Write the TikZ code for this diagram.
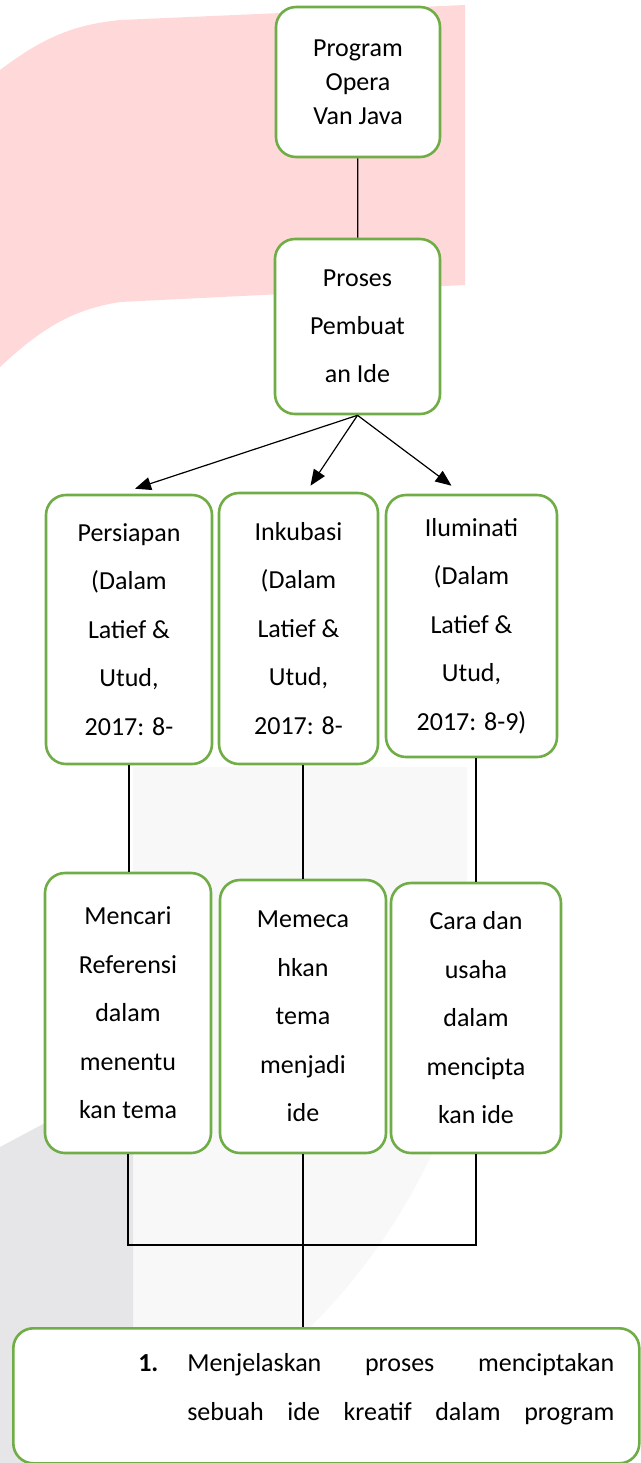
\documentclass[tikz,border=0pt]{standalone}
\usepackage{fontspec}
\setmainfont{Carlito}
\usetikzlibrary{arrows.meta,calc}
\definecolor{hijau}{HTML}{70AD47}
\definecolor{merahmuda}{HTML}{FFD8DA}
\definecolor{abu}{HTML}{E6E6E8}
\definecolor{abumuda}{HTML}{F8F8F8}
\begin{document}
\begin{tikzpicture}
      [x=0.5pt, y=-0.5pt,
      kotak/.style={draw=hijau, line width=1.3pt, fill=white, rounded corners=10pt, align=center, inner sep=0pt},
      baris/.style={kotak, font=\fontsize{13}{24.25}\selectfont},
      garis/.style={black, line width=0.6pt},
      panah/.style={garis, -{Triangle[length=8pt,width=6.5pt]}},
      ]
      \useasboundingbox (0,0) rectangle (641,1463);
      % latar belakang
      \fill[merahmuda] (0,70) .. controls (40,40) and (70,25) .. (120,20) -- (465,5)
        -- (465,285) -- (120,302) .. controls (70,310) and (40,330) .. (0,367) -- cycle;
      \fill[abumuda] (133,767) -- (467,767) -- (467,1060)
        .. controls (440,1160) and (380,1260) .. (307,1330) -- (133,1330) -- cycle;
      \fill[abu] (0,1147) -- (133,1076) -- (133,1463) -- (0,1463) -- cycle;
      % kotak
      \node[kotak, minimum width=82pt, minimum height=75pt, font=\fontsize{13}{17}\selectfont]
        (prog) at (358,82) {Program\\Opera\\Van Java};
      \node[kotak, minimum width=82.5pt, minimum height=87.5pt, font=\fontsize{13}{24}\selectfont]
        (ide) at (357.5,326.5) {Proses\\Pembuat\\an Ide};
      \node[baris, minimum width=83pt, minimum height=134.5pt] (prs) at (129,629.5)
        {Persiapan\\(Dalam\\Latief \&\\Utud,\\2017: 8-};
      \node[baris, minimum width=79.5pt, minimum height=135.5pt] (ink) at (298.5,628.5)
        {Inkubasi\\(Dalam\\Latief \&\\Utud,\\2017: 8-};
      \node[baris, minimum width=85.5pt, minimum height=131pt] (ilu) at (471.5,626)
        {Iluminati\\(Dalam\\Latief \&\\Utud,\\2017: 8-9)};
      \node[baris, minimum width=83pt, minimum height=140pt] (mcr) at (128,1013)
        {Mencari\\Referensi\\dalam\\menentu\\kan tema};
      \node[baris, minimum width=83pt, minimum height=136.5pt] (mem) at (303,1016.5)
        {Memeca\\hkan\\tema\\menjadi\\ide};
      \node[baris, minimum width=85pt, minimum height=135pt] (cara) at (476,1018)
        {Cara dan\\usaha\\dalam\\mencipta\\kan ide};
      \node[kotak, anchor=north west, minimum width=313pt, minimum height=67.5pt,
        inner xsep=6pt, font=\fontsize{13}{24.5}\selectfont]
        (tuj) at (12,1327)
        {\raisebox{3.5pt}[\height][\depth]{\parbox{301pt}{%
         \hspace*{56.5pt}\makebox[24.5pt][l]{\textbf{1.}}\hbox to 213.5pt{Menjelaskan\hfill proses\hfill menciptakan}\\
         \hspace*{81pt}\hbox to 213.5pt{sebuah\hfill ide\hfill kreatif\hfill dalam\hfill program}}}};
      % penghubung
      \coordinate (temu) at (303,1245);
      \draw[garis] (prog) -- (ide);
      \draw[panah] (ide.south) -- ($(prs.north)+(6,-5)$);
      \draw[panah] (ide.south) -- ($(ink.north)+(12,-6)$);
      \draw[panah] (ide.south) -- ($(ilu.north)+(-20,-8)$);
      \draw[garis] (prs.south) -- (prs.south |- mcr.north);
      \draw[garis] (mem.north |- ink.south) -- (mem.north);
      \draw[garis] (cara.north |- ilu.south) -- (cara.north);
      \draw[garis] (mcr.south) -- (mcr.south |- temu) -- (cara.south |- temu) -- (cara.south);
      \draw[garis] (mem.south) -- (temu) -- (temu |- tuj.north);
\end{tikzpicture}
\end{document}
